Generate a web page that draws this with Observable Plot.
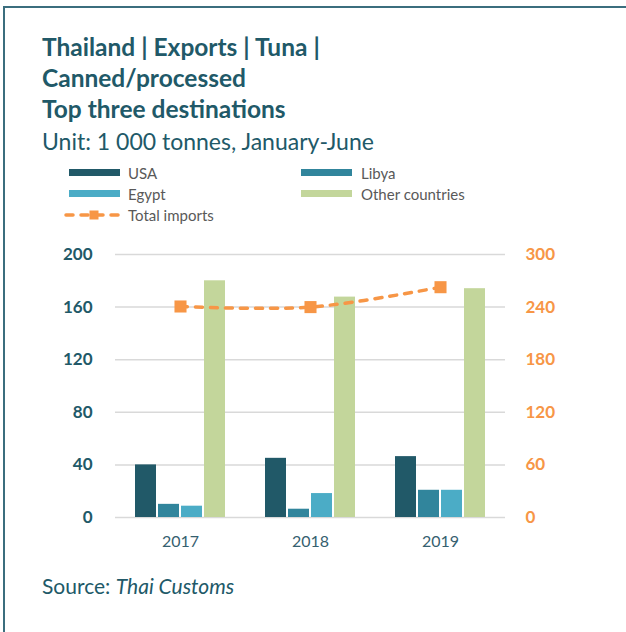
<!DOCTYPE html>
<html>
<head>
<meta charset="utf-8">
<script src="https://cdn.jsdelivr.net/npm/d3@7"></script>
<script src="https://cdn.jsdelivr.net/npm/@observablehq/plot@0.6"></script>
<style>
  body { margin: 0; background: #fff; }
  #wrap { position: relative; width: 626px; height: 632px; overflow: hidden; font-family: Lato, sans-serif; background: #fff; }
  #frame { position: absolute; left: 3px; top: 6px; width: 700px; height: 700px; border-left: 2px solid #3b6e7e; border-top: 2px solid #3b6e7e; }
  #title { position: absolute; left: 42px; top: 31px; font-size: 24.5px; line-height: 31px; font-weight: bold; color: #215968; white-space: nowrap; }
  #subtitle { position: absolute; left: 42px; top: 127.5px; font-size: 23px; line-height: 1.2; color: #215968; white-space: nowrap; }
  #legend { position: absolute; left: 0; top: 0; }
  .lg-label { position: absolute; font-size: 15px; line-height: 16px; color: #595959; white-space: nowrap; }
  .lg-sw { position: absolute; width: 51px; height: 7px; }
  #chart1, #chart2 { position: absolute; left: 0; top: 230px; }
  #source { position: absolute; left: 42px; top: 572.6px; font-size: 21px; line-height: 1.2; color: #215968; white-space: nowrap; }
</style>
</head>
<body>
<div id="wrap">
  <div id="frame"></div>
  <div id="title">Thailand | Exports | Tuna |<br>Canned/processed<br>Top three destinations</div>
  <div id="subtitle">Unit: 1 000 tonnes, January-June</div>
  <div id="legend"></div>
  <div id="chart1"></div>
  <div id="chart2"></div>
  <div id="source">Source: <i>Thai Customs</i></div>
</div>
<script>
// ---- data ----
const years = ["2017", "2018", "2019"];
const seriesNames = ["USA", "Libya", "Egypt", "Other countries"];
const usa = [40, 45, 46.3];
const libya = [10, 6.3, 20.7];
const egypt = [8.6, 18.2, 20.7];
const other = [180, 167.6, 174];
const totalImports = [240.7, 240, 262.7];
const totalLabel = "Total imports";
const leftTicks = [0, 40, 80, 120, 160, 200];
const rightTicks = [0, 60, 120, 180, 240, 300];

// ---- styles ----
const seriesColors = ["#215968", "#31859c", "#4bacc6", "#c3d69b"];
const lineColor = "#f79646";
const gridColor = "#d9d9d9";

const seriesValues = [usa, libya, egypt, other];
const barData = [];
years.forEach((yr, i) => {
  seriesNames.forEach((s, j) => barData.push({year: yr, series: s, value: seriesValues[j][i]}));
});
const lineData = years.map((yr, i) => ({year: yr, total: totalImports[i]}));

// ---- legend ----
const legend = document.getElementById("legend");
const legendPos = [
  {sx: 69, tx: 128, cy: 172.5},
  {sx: 301, tx: 361, cy: 172.5},
  {sx: 69, tx: 128, cy: 193.5},
  {sx: 301, tx: 361, cy: 193.5}
];
seriesNames.forEach((s, j) => {
  const p = legendPos[j];
  const sw = document.createElement("div");
  sw.className = "lg-sw";
  sw.style.left = p.sx + "px";
  sw.style.top = (p.cy - 3.5) + "px";
  sw.style.background = seriesColors[j];
  legend.appendChild(sw);
  const lb = document.createElement("div");
  lb.className = "lg-label";
  lb.style.left = p.tx + "px";
  lb.style.top = (p.cy - 8) + "px";
  lb.textContent = s;
  legend.appendChild(lb);
});
{
  const svg = d3.create("svg").attr("width", 62).attr("height", 16)
    .style("position", "absolute").style("left", "63px").style("top", "207px");
  svg.append("line").attr("x1", 3).attr("x2", 59).attr("y1", 8).attr("y2", 8)
    .attr("stroke", lineColor).attr("stroke-width", 3.5).attr("stroke-linecap", "round")
    .attr("stroke-dasharray", "7 8");
  svg.append("rect").attr("x", 26.5).attr("y", 3.5).attr("width", 9).attr("height", 9).attr("fill", lineColor);
  legend.appendChild(svg.node());
  const lb = document.createElement("div");
  lb.className = "lg-label";
  lb.style.left = "128px";
  lb.style.top = "207px";
  lb.textContent = totalLabel;
  legend.appendChild(lb);
}

// ---- shared layout ----
const W = 626, H = 327, MT = 24, MB = 40, ML = 114, MR = 120;

// ---- bars ----
const chart1 = Plot.plot({
  width: W, height: H, marginTop: MT, marginBottom: MB, marginLeft: ML, marginRight: MR,
  style: {fontFamily: "Lato, sans-serif", background: "transparent", overflow: "visible"},
  fx: {domain: years, padding: 0, label: null},
  x: {domain: seriesNames, paddingInner: 0.07, paddingOuter: 0.75, axis: null},
  y: {domain: [0, 200], label: null},
  color: {domain: seriesNames, range: seriesColors},
  marks: [
    Plot.ruleY(leftTicks, {stroke: gridColor, strokeWidth: 1.5}),
    Plot.barY(barData, {fx: "year", x: "series", y: "value", fill: "series"}),
    Plot.axisY({ticks: leftTicks, tickSize: 0, tickPadding: 23, fontSize: 17, fontWeight: "bold", fill: "#215968", label: null}),
    Plot.axisFx({anchor: "bottom", tickSize: 0, tickPadding: 18, fontSize: 16, fill: "#35606f", label: null})
  ]
});
document.getElementById("chart1").appendChild(chart1);

// ---- total imports line (secondary axis) ----
const chart2 = Plot.plot({
  width: W, height: H, marginTop: MT, marginBottom: MB, marginLeft: ML, marginRight: MR,
  style: {fontFamily: "Lato, sans-serif", background: "transparent", overflow: "visible"},
  x: {type: "point", domain: years, padding: 0.5, axis: null},
  y: {domain: [0, 300], label: null},
  marks: [
    Plot.line(lineData, {x: "year", y: "total", curve: "catmull-rom", stroke: lineColor, strokeWidth: 3.5,
      strokeDasharray: "7 8", strokeLinecap: "round"}),
    Plot.dot(lineData, {x: "year", y: "total", symbol: "square", r: 6.8, fill: lineColor, stroke: "none"}),
    Plot.axisY({anchor: "right", ticks: rightTicks, tickSize: 0, tickPadding: 19, fontSize: 17, fontWeight: "bold", fill: lineColor, label: null})
  ]
});
document.getElementById("chart2").appendChild(chart2);
</script>
</body>
</html>
